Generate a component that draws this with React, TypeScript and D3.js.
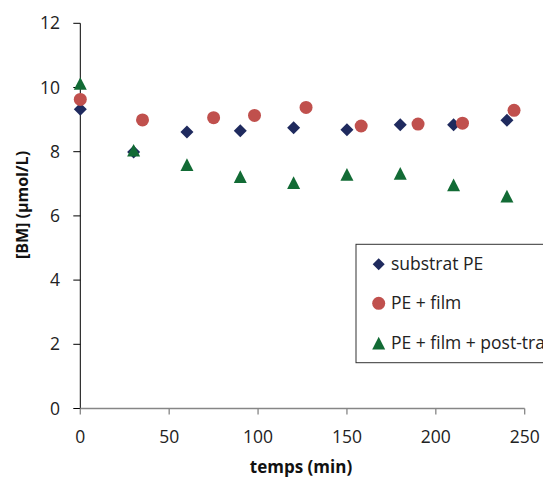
import React from "react";
import * as d3 from "d3";

const timesPE = [0, 30, 60, 90, 120, 150, 180, 210, 240];
const valuesPE = [9.32, 7.99, 8.61, 8.65, 8.75, 8.68, 8.84, 8.84, 8.98];

const timesFilm = [0, 35, 75, 98, 127, 158, 190, 215, 244];
const valuesFilm = [9.63, 8.99, 9.06, 9.13, 9.38, 8.8, 8.86, 8.89, 9.29];

const timesPost = [0, 30, 60, 90, 120, 150, 180, 210, 240];
const valuesPost = [10.12, 8.04, 7.59, 7.22, 7.03, 7.29, 7.32, 6.96, 6.61];

const xTicks = [0, 50, 100, 150, 200, 250];
const yTicks = [0, 2, 4, 6, 8, 10, 12];
const legendLabels = ["substrat PE", "PE + film", "PE + film + post-traitement"];

const xTitle = "temps (min)";
const yTitle = "[BM] (µmol/L)";

const NAVY = "#1F2A5E";
const RED = "#C0504D";
const GREEN = "#126B35";
const FONT = "'Open Sans', 'Noto Sans', sans-serif";

function Diamond({ x, y, s = 6.5 }: { x: number; y: number; s?: number }) {
  return <path d={`M${x},${y - s}L${x + s},${y}L${x},${y + s}L${x - s},${y}Z`} fill={NAVY} />;
}
function Circle({ x, y, r = 6.5 }: { x: number; y: number; r?: number }) {
  return <circle cx={x} cy={y} r={r} fill={RED} />;
}
function Triangle({ x, y, s = 6.5 }: { x: number; y: number; s?: number }) {
  return <path d={`M${x},${y - s}L${x + s},${y + s * 0.95}L${x - s},${y + s * 0.95}Z`} fill={GREEN} />;
}

export default function App() {
  const W = 543;
  const H = 478;
  const x = d3.scaleLinear().domain([0, 250]).range([80.3, 524.7]);
  const y = d3.scaleLinear().domain([0, 12]).range([408.5, 23.3]);

  return (
    <svg
      width={W}
      height={H}
      style={{ position: "absolute", left: 0, top: 0, background: "#fff" }}
      fontFamily={FONT}
    >
      {/* axes */}
      <line x1={x(0)} x2={x(0)} y1={y(12)} y2={y(0)} stroke="#000" strokeWidth={1} />
      <line x1={x(0)} x2={x(250)} y1={y(0)} y2={y(0)} stroke="#868686" strokeWidth={1.3} />
      {yTicks.map((t) => (
        <g key={"y" + t}>
          <line x1={x(0) - 7} x2={x(0)} y1={y(t)} y2={y(t)} stroke="#000" />
          <text x={60} y={y(t)} dy="0.35em" textAnchor="end" fontSize={17.5} fill="#222">
            {t}
          </text>
        </g>
      ))}
      {xTicks.map((t) => (
        <g key={"x" + t}>
          <line x1={x(t)} x2={x(t)} y1={y(0)} y2={y(0) + 6} stroke="#868686" strokeWidth={1.3} />
          <text x={x(t)} y={y(0) + 34} textAnchor="middle" fontSize={17.5} fill="#222">
            {t}
          </text>
        </g>
      ))}
      <text x={301} y={473} textAnchor="middle" fontSize={17} fontWeight="bold" fill="#111">
        {xTitle}
      </text>
      <text
        transform={`translate(28,205) rotate(-90)`}
        textAnchor="middle"
        fontSize={16}
        fontWeight="bold"
        fill="#111"
      >
        {yTitle}
      </text>

      {/* data */}
      {timesPE.map((t, i) => (
        <Diamond key={"pe" + i} x={x(t)} y={y(valuesPE[i])} />
      ))}
      {timesFilm.map((t, i) => (
        <Circle key={"f" + i} x={x(t)} y={y(valuesFilm[i])} />
      ))}
      {timesPost.map((t, i) => (
        <Triangle key={"p" + i} x={x(t)} y={y(valuesPost[i])} />
      ))}

      {/* legend */}
      <rect x={356} y={244.3} width={220} height={118.4} fill="#fff" stroke="#333" strokeWidth={1} />
      <Diamond x={378.7} y={264.3} s={6} />
      <Circle x={378.7} y={303.3} r={6.5} />
      <Triangle x={378.7} y={343.3} s={6.5} />
      {legendLabels.map((l, i) => (
        <text key={l} x={391} y={[264.3, 303.3, 343.3][i]} dy="0.35em" fontSize={17.5} fill="#222">
          {l}
        </text>
      ))}
    </svg>
  );
}
